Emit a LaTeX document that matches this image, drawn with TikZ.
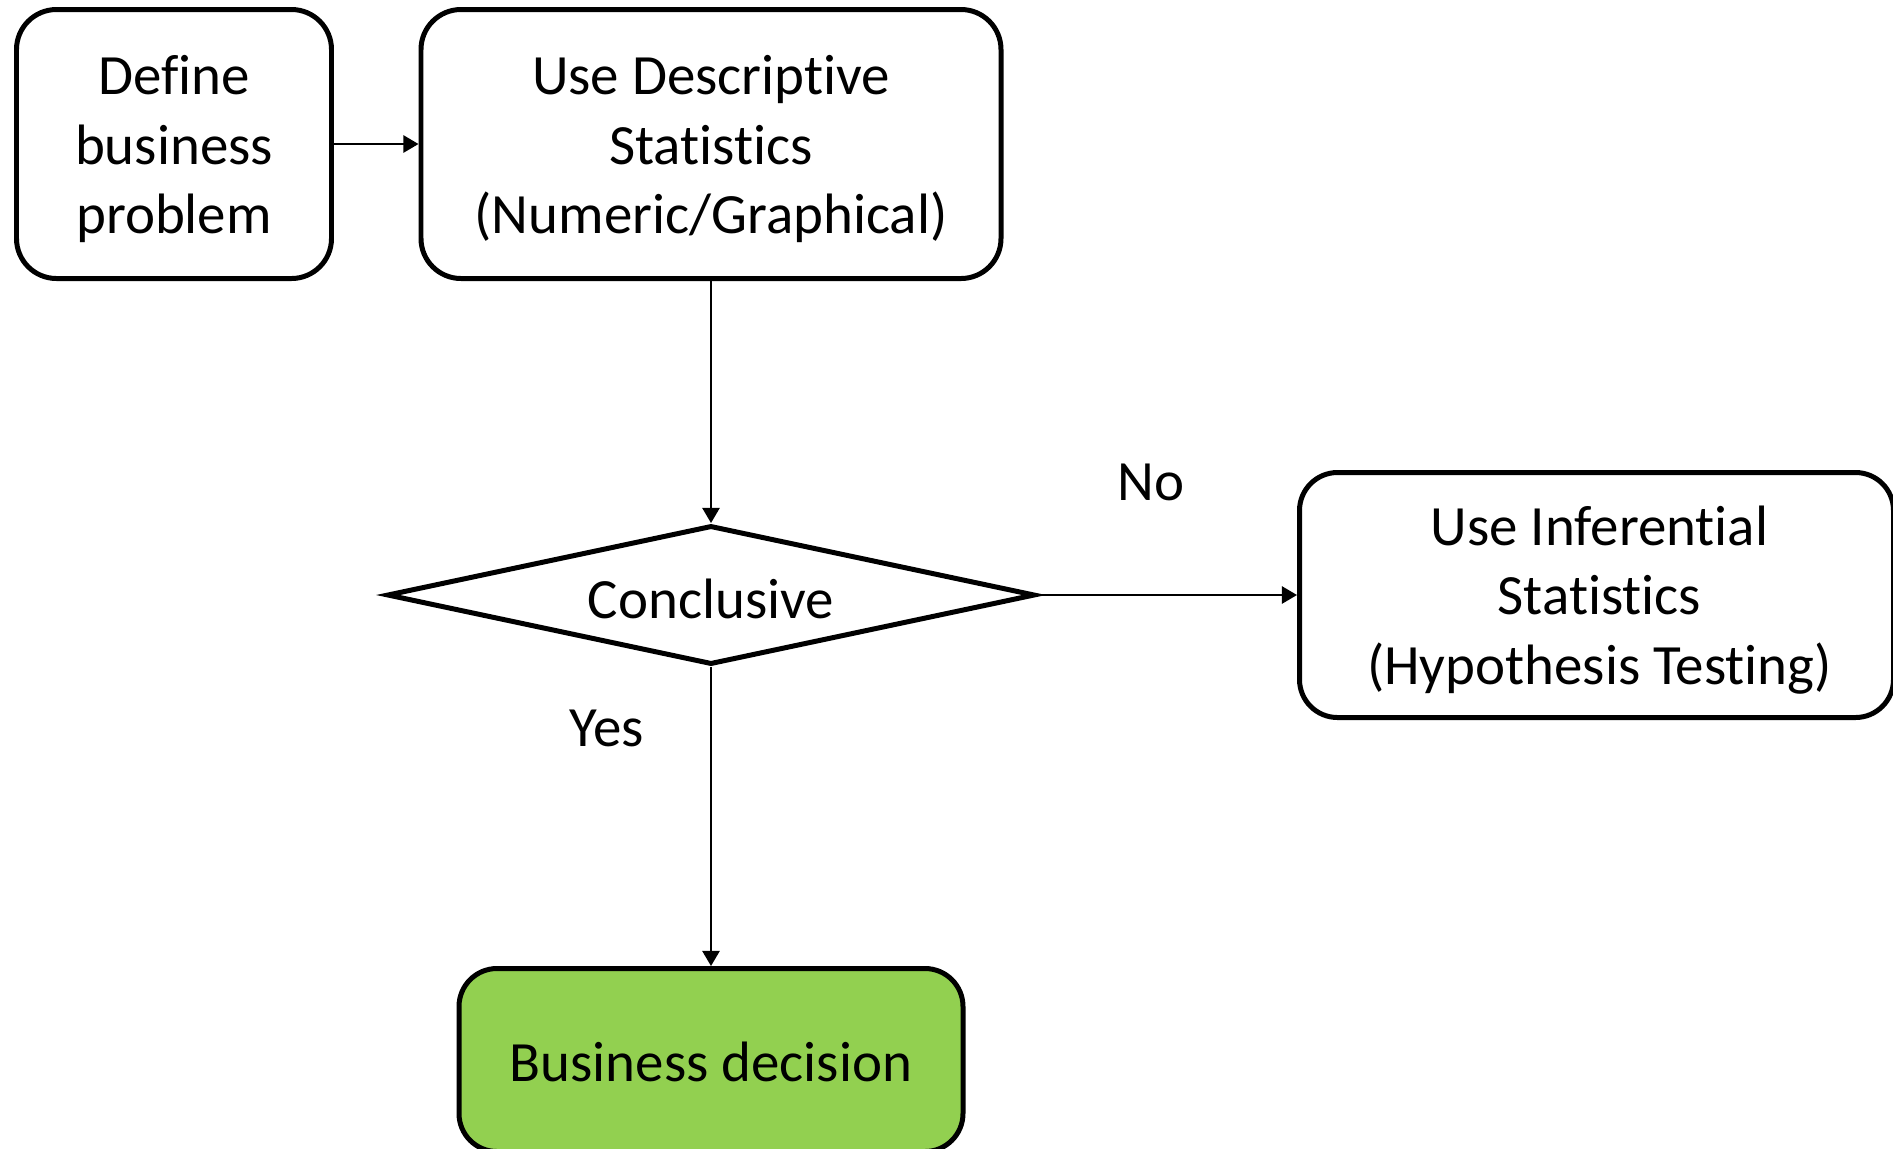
\documentclass[tikz,border=0pt]{standalone}
\usepackage{fontspec}
\setmainfont{Carlito}[Ligatures={NoCommon,NoContextual},RawFeature={-liga;-clig}]
\usetikzlibrary{arrows.meta,shapes.geometric}
\definecolor{boxgreen}{HTML}{92D050}
\tikzset{
  flowbox/.style={draw=black, line width=1.42pt, rounded corners=0.4cm, fill=white,
    inner sep=0pt},
  decision/.style={draw=black, line width=1.42pt, diamond, aspect=5, fill=white,
    inner sep=0pt},
  boxtext/.style={align=center, inner sep=0pt, font=\fontsize{16.2}{19.75}\selectfont},
  lbl/.style={inner sep=0pt, font=\fontsize{16.2}{19.75}\selectfont},
  conn/.style={draw=black, line width=0.57pt, -{Triangle[length=4.3pt,width=4.9pt]}}
}
\begin{document}
\begin{tikzpicture}
\useasboundingbox (0,0) rectangle (18.93,-11.48);
% shapes
\node[flowbox, minimum width=3.15cm, minimum height=2.69cm] (define) at (1.74,-1.44) {};
\node[flowbox, minimum width=5.80cm, minimum height=2.69cm] (desc) at (7.11,-1.44) {};
\node[decision, minimum width=6.48cm, minimum height=1.39cm] (concl) at (7.11,-5.95) {};
\node[flowbox, rounded corners=0.38cm, minimum width=5.94cm, minimum height=2.45cm] (infer) at (15.965,-5.95) {};
\node[flowbox, rounded corners=0.38cm, fill=boxgreen, minimum width=5.04cm, minimum height=1.83cm] (decision) at (7.11,-10.60) {};
% texts
\node[boxtext] (define-t) at ([yshift=-0.05cm]define.center) {Define\\business\\problem};
\node[boxtext] (desc-t) at ([yshift=-0.05cm]desc.center) {Use Descriptive\\Statistics\\(Numeric/Graphical)};
\node[boxtext] (concl-t) at ([yshift=-0.04cm]concl.center) {Conclusive};
\node[boxtext] (infer-t) at ([xshift=0.03cm,yshift=-0.05cm]infer.center) {Use Inferential\\Statistics\\(Hypothesis Testing)};
\node[boxtext] (decision-t) at ([yshift=-0.02cm]decision.center) {Business decision};
\node[lbl] (no) at (11.51,-4.82) {No};
\node[lbl] (yes) at (6.07,-7.28) {Yes};
% connectors
\draw[conn] (define.east) -- (desc.west);
\draw[conn] (desc.south) -- (concl.north);
\draw[conn] (concl.east) -- (infer.west);
\draw[conn] (concl.south) -- (decision.north);
\end{tikzpicture}
\end{document}
